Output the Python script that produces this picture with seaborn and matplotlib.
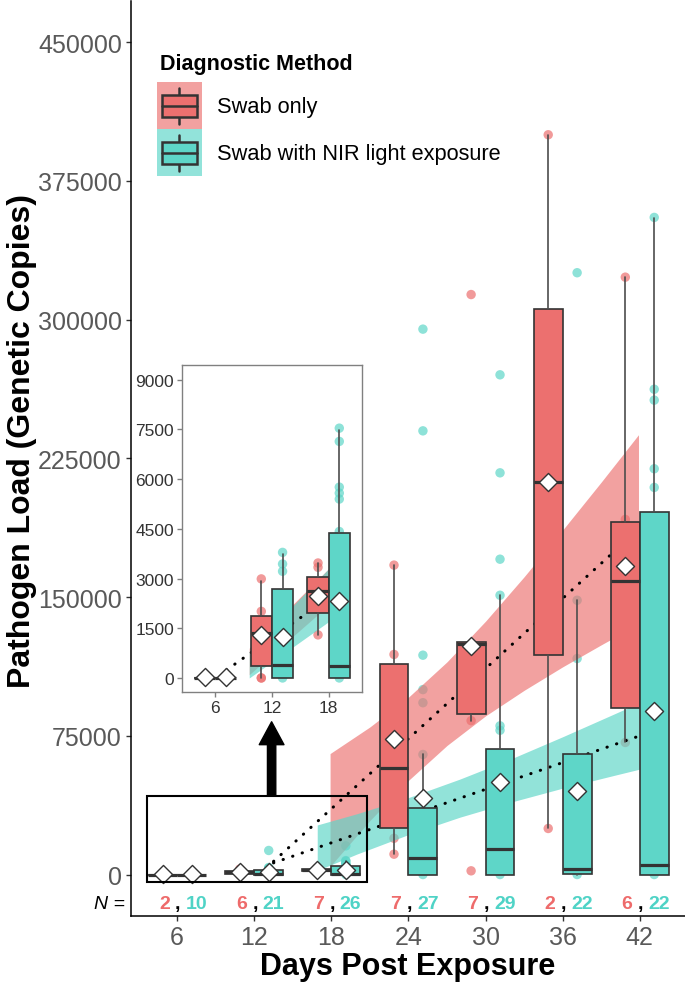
import numpy as np
import pandas as pd
import matplotlib
matplotlib.use("Agg")
import matplotlib.pyplot as plt
import matplotlib.transforms as mtransforms
import seaborn as sns
from matplotlib.patches import Rectangle, FancyArrowPatch, Patch
from matplotlib.lines import Line2D
from matplotlib.legend_handler import HandlerBase

# ---------------- data ----------------
days = [6, 12, 18, 24, 30, 36, 42]
methods = ["Swab only", "Swab with NIR light exposure"]
n_swab = [2, 6, 7, 7, 7, 2, 6]
n_nir = [10, 21, 26, 27, 29, 22, 22]

# box statistics (genetic copies)
swab_whislo = [0, 0, 1300, 11000, 83200, 24900, 71500]
swab_q1 = [0, 350, 1960, 25000, 86900, 118600, 89800]
swab_med = [0, 1360, 2620, 57700, 124500, 212300, 158800]
swab_q3 = [0, 1860, 3060, 114000, 125800, 306000, 190700]
swab_whishi = [0, 2940, 3470, 167300, 125800, 400000, 323000]
swab_mean = [20, 1300, 2480, 73400, 123700, 212300, 166900]

nir_whislo = [0, 0, 0, 0, 0, 0, 0]
nir_q1 = [0, 0, 0, 0, 0, 300, 0]
nir_med = [0, 390, 350, 8700, 14000, 2900, 5000]
nir_q3 = [0, 2690, 4380, 35700, 67800, 64900, 196000]
nir_whishi = [0, 3740, 7490, 64900, 151000, 148300, 355000]
nir_mean = [20, 1250, 2330, 41500, 49800, 45300, 88300]

# individual observations that are visible
swab_pt_days = [6, 6, 12, 12, 12, 12, 18, 18, 18, 24, 24, 24, 24,
                30, 30, 30, 36, 36, 42, 42, 42]
swab_pt_vals = [0, 0, 0, 0, 2010, 2990, 1300, 3340, 3470, 11000, 19600, 119000, 167300,
                2000, 83200, 313600, 24900, 400000, 71400, 192000, 323000]
nir_pt_days = [6, 6, 12, 12, 12, 12, 12, 18, 18, 18, 18, 18, 18, 18, 18,
               24, 24, 24, 24, 24, 24, 24, 30, 30, 30, 30, 30, 30, 30,
               36, 36, 36, 36, 42, 42, 42, 42, 42, 42]
nir_pt_vals = [0, 0, 0, 3220, 3440, 3790, 13000, 0, 4420, 5400, 5580, 5760, 7140, 7540, 15500,
               0, 64900, 92900, 100000, 118600, 239900, 294900, 0, 78000, 80400, 151000, 170500, 217200, 270200,
               0, 116800, 148300, 325400, 0, 209300, 219400, 256500, 262400, 355300]

# fitted trends (main panel)
fit_days = [13.5, 42]
swab_fit = [7100, 187200]
nir_fit = [6300, 75000]
swab_band_days = [17.9, 21, 24, 27, 30, 33, 36, 39, 41.9]
swab_band_lo = [4400, 29200, 50900, 69800, 85800, 99600, 112300, 124200, 135400]
swab_band_hi = [65400, 79800, 95900, 115000, 137000, 161000, 186300, 212200, 237800]
nir_band_days = [16.9, 20, 24, 28, 32, 36, 40, 42]
nir_band_lo = [2200, 11100, 21600, 31000, 39200, 46700, 53600, 57000]
nir_band_hi = [26800, 32900, 41600, 51600, 62600, 74500, 86800, 93000]

# fitted trends (inset, days 6-18)
inset_fit_days = [7.2, 18]
inset_fit = [240, 2420]
inset_band_days = [9.6, 18]
inset_swab_lo = [100, 2200]
inset_swab_hi = [900, 3300]
inset_nir_lo = [0, 1700]
inset_nir_hi = [800, 3300]

y_ticks = [0, 75000, 150000, 225000, 300000, 375000, 450000]
inset_y_ticks = [0, 1500, 3000, 4500, 6000, 7500, 9000]
inset_days = [6, 12, 18]

# ---------------- style ----------------
sns.set_theme(style="ticks")
plt.rcParams["font.family"] = ["Liberation Sans", "DejaVu Sans"]

RED = "#EC706F"
TEAL = "#5ED6C8"
EDGE = "#333333"
RED_TXT = "#EE6B6B"
TEAL_TXT = "#4FD3C6"
DODGE = 1.125
BOX_W = 2.25
palette = {methods[0]: RED, methods[1]: TEAL}

pts = pd.DataFrame({
    "day": swab_pt_days + nir_pt_days,
    "value": swab_pt_vals + nir_pt_vals,
    "method": [methods[0]] * len(swab_pt_days) + [methods[1]] * len(nir_pt_days),
})
pts["x"] = pts["day"] + np.where(pts["method"] == methods[0], -DODGE, DODGE)

means = pd.DataFrame({
    "day": days + days,
    "mean": swab_mean + nir_mean,
    "method": [methods[0]] * len(days) + [methods[1]] * len(days),
})
means["x"] = means["day"] + np.where(means["method"] == methods[0], -DODGE, DODGE)


def box_stats(lo, q1, med, q3, hi, mean, keep):
    return [dict(whislo=lo[i], q1=q1[i], med=med[i], q3=q3[i], whishi=hi[i],
                 mean=mean[i], fliers=[]) for i in keep]


def draw_panel(a, keep, fits, bands):
    sel_days = [days[i] for i in keep]
    p = pts[pts["day"].isin(sel_days)]
    sns.scatterplot(data=p, x="x", y="value", hue="method", palette=palette,
                    s=46, alpha=0.7, linewidth=0, legend=False, ax=a, zorder=1)
    for bd, lo, hi, col, al in bands:
        a.fill_between(bd, lo, hi, color=col, alpha=al, linewidth=0, zorder=2)
    for fd, fv in fits:
        sns.lineplot(x=fd, y=fv, ax=a, color="black", linewidth=2.2,
                     linestyle=(0, (0.1, 3.2)), dash_capstyle="round", zorder=3)
    specs = [
        (box_stats(swab_whislo, swab_q1, swab_med, swab_q3, swab_whishi, swab_mean, keep), -DODGE, RED),
        (box_stats(nir_whislo, nir_q1, nir_med, nir_q3, nir_whishi, nir_mean, keep), DODGE, TEAL),
    ]
    for stats, off, col in specs:
        a.bxp(stats, positions=[d + off for d in sel_days], widths=BOX_W,
              patch_artist=True, showfliers=False, showcaps=False, manage_ticks=False,
              boxprops=dict(facecolor=col, edgecolor=EDGE, linewidth=1.2),
              medianprops=dict(color=EDGE, linewidth=2.3, solid_capstyle="butt"),
              whiskerprops=dict(color="#4d4d4d", linewidth=1.2), zorder=4)
    m = means[means["day"].isin(sel_days)]
    sns.scatterplot(data=m, x="x", y="mean", marker="D", color="white",
                    edgecolor=EDGE, linewidth=1.0, s=85, legend=False, ax=a, zorder=5)
    a.set_xlabel("")
    a.set_ylabel("")


fig = plt.figure(figsize=(6.85, 9.87), dpi=100)
ax = fig.add_axes([0.1912, 0.0712, 0.8088, 0.9268])
ax_in = fig.add_axes([0.2653, 0.2976, 0.2628, 0.3316])

# ---------------- main panel ----------------
draw_panel(ax, range(len(days)),
           [(fit_days, swab_fit), (fit_days, nir_fit)],
           [(swab_band_days, swab_band_lo, swab_band_hi, RED, 0.66),
            (nir_band_days, nir_band_lo, nir_band_hi, TEAL, 0.68)])

ax.set_xlim(2.405, 45.52)
ax.set_ylim(-22280, 472340)
ax.set_xticks(days)
ax.set_xticklabels([str(d) for d in days])
ax.set_yticks(y_ticks)
ax.set_yticklabels([str(t) for t in y_ticks])
ax.tick_params(axis="both", labelsize=18, labelcolor="#595959", color="#333333",
               length=3.6, width=1.0, pad=3)
sns.despine(ax=ax)
for s in ["left", "bottom"]:
    ax.spines[s].set_color("black")
    ax.spines[s].set_linewidth(1.1)

ax.set_xlabel("Days Post Exposure", fontsize=22, fontweight="bold", color="black")
ax.xaxis.set_label_coords(0.5, -0.055)
ax.xaxis.label.set_va("center")
ax.set_ylabel("Pathogen Load (Genetic Copies)", fontsize=23, fontweight="bold", color="black")
ax.yaxis.set_label_coords(-0.197, 0.52)
ax.yaxis.label.set_va("center")

# sample sizes row
for d, nr, nt in zip(days, n_swab, n_nir):
    ax.text(d - 1.0, -18300, str(nr), color=RED_TXT, fontsize=14, fontweight="bold",
            ha="center", va="baseline", zorder=7)
    ax.text(d + 0.05, -18300, ",", color="black", fontsize=14, fontweight="bold",
            ha="center", va="baseline", zorder=7)
    ax.text(d + 1.5, -18300, str(nt), color=TEAL_TXT, fontsize=14, fontweight="bold",
            ha="center", va="baseline", zorder=7)
trans = mtransforms.blended_transform_factory(ax.transAxes, ax.transData)
ax.text(-0.011, -18300, "N =", transform=trans, ha="right", va="baseline",
        fontsize=14, style="italic", color="black", clip_on=False)

# zoom box and arrow
ax.add_patch(Rectangle((3.673, -3890), 20.79 - 3.673, 42600 + 3890, fill=False,
                       edgecolor="black", linewidth=1.5, zorder=6))
ax.add_patch(FancyArrowPatch((13.35, 42600), (13.35, 82600),
                             arrowstyle="simple,head_length=16.5,head_width=17.8,tail_width=6",
                             mutation_scale=1, color="black", shrinkA=0, shrinkB=0, zorder=6))

# ---------------- inset ----------------
ax_in.set_facecolor("white")
draw_panel(ax_in, range(3),
           [(inset_fit_days, inset_fit)],
           [(inset_band_days, inset_swab_lo, inset_swab_hi, RED, 0.66),
            (inset_band_days, inset_nir_lo, inset_nir_hi, TEAL, 0.68)])
ax_in.set_xlim(2.46, 21.5)
ax_in.set_ylim(-432, 9447)
ax_in.set_xticks(inset_days)
ax_in.set_xticklabels([str(d) for d in inset_days])
ax_in.set_yticks(inset_y_ticks)
ax_in.set_yticklabels([str(t) for t in inset_y_ticks])
ax_in.tick_params(axis="both", labelsize=12.5, labelcolor="#333333", color="#808080",
                  length=3.6, width=1.0, pad=2)
for s in ax_in.spines.values():
    s.set_visible(True)
    s.set_color("#808080")
    s.set_linewidth(1.0)


# ---------------- legend ----------------
class BoxKey(HandlerBase):
    def __init__(self, bg, fg):
        super().__init__()
        self.bg = bg
        self.fg = fg

    def create_artists(self, legend, orig_handle, xd, yd, w, h, fontsize, trans):
        x0, y0 = -xd, -yd
        cx = x0 + w / 2
        arts = [
            Rectangle((x0, y0), w, h, facecolor=self.bg, edgecolor="none", transform=trans),
            Line2D([cx, cx], [y0 + 0.11 * h, y0 + 0.87 * h], color=EDGE, lw=1.8, transform=trans),
            Rectangle((x0 + 0.11 * w, y0 + 0.25 * h), 0.78 * w, 0.48 * h, facecolor=self.fg,
                      edgecolor=EDGE, lw=1.8, transform=trans),
            Line2D([x0 + 0.11 * w, x0 + 0.89 * w], [y0 + 0.49 * h] * 2, color=EDGE, lw=1.8,
                   transform=trans),
        ]
        return arts


band_red = (0.66 * 236 / 255 + 0.34, 0.66 * 112 / 255 + 0.34, 0.66 * 111 / 255 + 0.34)
band_teal = (0.68 * 94 / 255 + 0.32, 0.68 * 214 / 255 + 0.32, 0.68 * 200 / 255 + 0.32)
h1 = Patch(label=methods[0])
h2 = Patch(label=methods[1])
leg = ax.legend(handles=[h1, h2], labels=methods,
                handler_map={h1: BoxKey(band_red, RED), h2: BoxKey(band_teal, TEAL)},
                loc="upper left", bbox_to_anchor=(156.7 / 685, 1 - 83.3 / 987),
                bbox_transform=fig.transFigure, frameon=False, fontsize=15.7,
                handlelength=2.07, handleheight=2.93, labelspacing=0, handletextpad=0.7,
                borderpad=0, borderaxespad=0, labelcolor="black")
fig.text(160 / 685, 1 - 70.4 / 987, "Diagnostic Method", fontsize=15.5, fontweight="bold",
         ha="left", va="baseline", color="black")

fig.savefig("out.png", dpi=100)
